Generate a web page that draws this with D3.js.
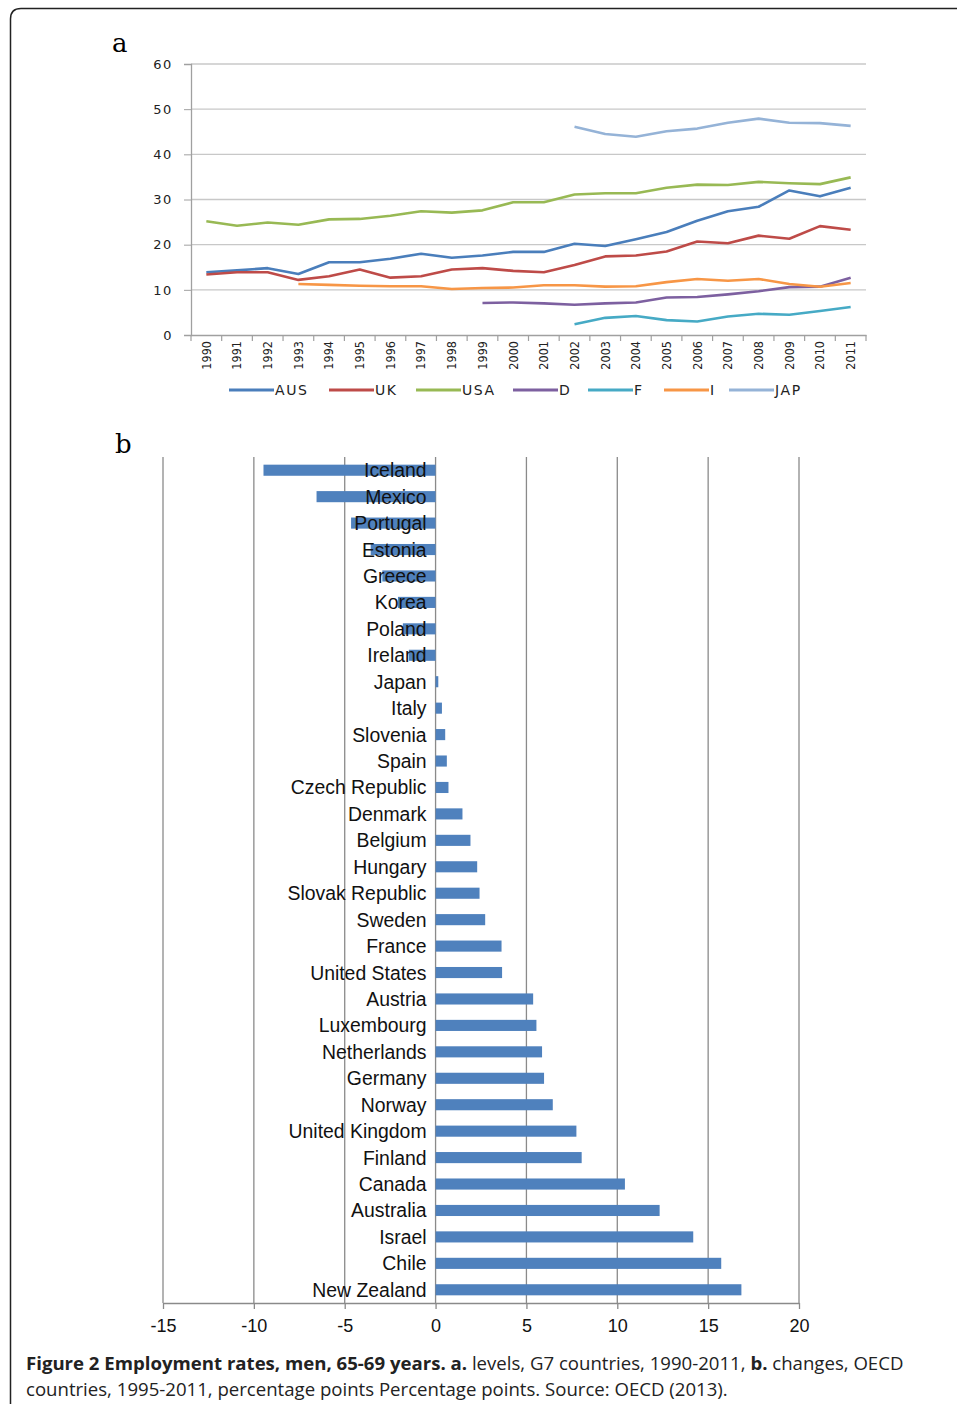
<!DOCTYPE html>
<html>
<head>
<meta charset="utf-8">
<title>Employment rates, men, 65-69</title>
<script src="https://cdn.jsdelivr.net/npm/d3@7"></script>
<style>
  body { margin: 0; background: #fff; }
</style>
</head>
<body>
<script>
// ---- data: panel a (levels, G7) ----
var years = ["1990","1991","1992","1993","1994","1995","1996","1997","1998","1999","2000",
             "2001","2002","2003","2004","2005","2006","2007","2008","2009","2010","2011"];
var ausVals = [13.9,14.3,14.8,13.5,16.1,16.1,16.9,18.0,17.1,17.6,18.4,18.4,20.2,19.7,21.2,22.8,25.3,27.4,28.4,32.0,30.7,32.6];
var ukVals  = [13.4,13.9,13.9,12.2,13.0,14.5,12.7,13.0,14.5,14.8,14.2,13.9,15.5,17.4,17.6,18.5,20.7,20.3,22.0,21.3,24.1,23.3];
var usaVals = [25.2,24.2,24.9,24.4,25.6,25.7,26.4,27.4,27.1,27.6,29.4,29.4,31.1,31.4,31.4,32.6,33.3,33.2,33.9,33.6,33.4,34.9];
var dVals   = [null,null,null,null,null,null,null,null,null,7.1,7.2,7.0,6.7,7.0,7.2,8.3,8.4,9.0,9.7,10.6,10.7,12.7];
var fVals   = [null,null,null,null,null,null,null,null,null,null,null,null,2.4,3.8,4.2,3.3,3.0,4.1,4.7,4.5,5.3,6.2];
var iVals   = [null,null,null,11.3,11.1,10.9,10.8,10.8,10.2,10.4,10.5,11.0,11.0,10.7,10.8,11.7,12.4,12.0,12.4,11.3,10.7,11.5];
var japVals = [null,null,null,null,null,null,null,null,null,null,null,null,46.1,44.5,43.9,45.1,45.7,47.0,47.9,47.0,46.9,46.3];
var seriesNames = ["AUS","UK","USA","D","F","I","JAP"];
var seriesColors = ["#4a7ebb","#be4b48","#98b954","#7d60a0","#46aac5","#f79646","#95b3d7"];
var yTicksA = [0,10,20,30,40,50,60];

// ---- data: panel b (changes 1995-2011, OECD) ----
var countries = ["Iceland","Mexico","Portugal","Estonia","Greece","Korea","Poland","Ireland","Japan","Italy",
                 "Slovenia","Spain","Czech Republic","Denmark","Belgium","Hungary","Slovak Republic","Sweden",
                 "France","United States","Austria","Luxembourg","Netherlands","Germany","Norway",
                 "United Kingdom","Finland","Canada","Australia","Israel","Chile","New Zealand"];
var changes = [-9.47,-6.55,-4.65,-3.57,-2.93,-2.07,-1.80,-1.47,0.15,0.35,
               0.53,0.62,0.71,1.48,1.92,2.29,2.42,2.73,
               3.63,3.66,5.37,5.55,5.86,5.97,6.45,
               7.75,8.04,10.42,12.33,14.18,15.72,16.83];
var xTicksB = [-15,-10,-5,0,5,10,15,20];

var width = 957, height = 1404;
var svg = d3.select("body").append("svg").attr("width", width).attr("height", height);

// frame
svg.append("path")
  .attr("d", "M10.5,1404 L10.5,19 Q10.5,8.5 21,8.5 L957,8.5")
  .attr("fill", "none").attr("stroke", "#222").attr("stroke-width", 1.5);

// panel letters
svg.append("text").attr("x", 112).attr("y", 52).attr("font-family", "DejaVu Serif, serif")
  .attr("font-size", 26).text("a");
svg.append("text").attr("x", 115).attr("y", 453).attr("font-family", "DejaVu Serif, serif")
  .attr("font-size", 26).text("b");

// ================= panel a =================
var mA = { left: 191, right: 866, top: 64, bottom: 335 };
var xBand = d3.scaleBand().domain(years).range([mA.left, mA.right]);
var yA = d3.scaleLinear().domain([0, 60]).range([mA.bottom, mA.top]);

var gA = svg.append("g");
// gridlines
gA.append("g").selectAll("line").data(yTicksA.slice(1)).enter().append("line")
  .attr("x1", mA.left).attr("x2", mA.right)
  .attr("y1", function (d) { return yA(d); }).attr("y2", function (d) { return yA(d); })
  .attr("stroke", "#c8c8c8").attr("stroke-width", 1.3);

// y axis
var axisY = gA.append("g").attr("transform", "translate(" + mA.left + ",0)")
  .call(d3.axisLeft(yA).tickValues(yTicksA).tickSize(7).tickPadding(11));
axisY.select(".domain").attr("stroke", "#a0a0a0").attr("stroke-width", 1.3);
axisY.selectAll(".tick line").attr("stroke", "#a0a0a0");
axisY.selectAll("text").attr("font-family", "DejaVu Sans, sans-serif").attr("font-size", 13)
  .attr("fill", "#222").attr("letter-spacing", 1.6);

// x axis (labels at category centres, ticks at category boundaries)
var axisX = gA.append("g").attr("transform", "translate(0," + mA.bottom + ")")
  .call(d3.axisBottom(xBand).tickSize(0).tickPadding(0));
axisX.select(".domain").attr("stroke", "#a0a0a0").attr("stroke-width", 1.3);
axisX.selectAll("text")
  .attr("font-family", "DejaVu Sans Condensed, DejaVu Sans, sans-serif").attr("font-size", 12.5)
  .attr("fill", "#222")
  .attr("text-anchor", "end")
  .attr("transform", "rotate(-90)")
  .attr("x", -6).attr("y", 0).attr("dy", "0.35em");
var bounds = years.map(function (d) { return xBand(d); }).concat([mA.right]);
gA.append("g").selectAll("line").data(bounds).enter().append("line")
  .attr("x1", function (d) { return d; }).attr("x2", function (d) { return d; })
  .attr("y1", mA.bottom).attr("y2", mA.bottom + 6)
  .attr("stroke", "#a0a0a0").attr("stroke-width", 1.2);

// series lines
var allSeries = [ausVals, ukVals, usaVals, dVals, fVals, iVals, japVals];
var line = d3.line()
  .defined(function (d) { return d != null; })
  .x(function (d, i) { return xBand(years[i]) + xBand.bandwidth() / 2; })
  .y(function (d) { return yA(d); });
gA.append("g").selectAll("path").data(allSeries).enter().append("path")
  .attr("d", line)
  .attr("fill", "none")
  .attr("stroke", function (d, i) { return seriesColors[i]; })
  .attr("stroke-width", 2.6)
  .attr("stroke-linejoin", "round");

// legend
var legendX = [229, 329, 416, 513, 588, 664, 729];
var leg = gA.append("g").selectAll("g").data(seriesNames).enter().append("g")
  .attr("transform", function (d, i) { return "translate(" + legendX[i] + ",390)"; });
leg.append("line").attr("x1", 0).attr("x2", 45).attr("y1", 0).attr("y2", 0)
  .attr("stroke", function (d, i) { return seriesColors[i]; }).attr("stroke-width", 3);
leg.append("text").attr("x", 46).attr("y", 0).attr("dy", "0.36em")
  .attr("font-family", "DejaVu Sans, sans-serif").attr("font-size", 14).attr("fill", "#222")
  .attr("letter-spacing", 1.6)
  .text(function (d) { return d; });

// ================= panel b =================
var mB = { left: 163, right: 799, top: 457, bottom: 1303 };
var xB = d3.scaleLinear().domain([-15, 20]).range([mB.left, mB.right]);
var yB = d3.scaleBand().domain(countries).range([mB.top, mB.bottom])
  .paddingInner(0.58).paddingOuter(0.29);

var gB = svg.append("g");
// vertical gridlines
gB.append("g").selectAll("line").data(xTicksB).enter().append("line")
  .attr("x1", function (d) { return xB(d); }).attr("x2", function (d) { return xB(d); })
  .attr("y1", mB.top).attr("y2", mB.bottom)
  .attr("stroke", "#8a8a8a").attr("stroke-width", 1.3);

// bottom axis
var axisB = gB.append("g").attr("transform", "translate(0," + mB.bottom + ")")
  .call(d3.axisBottom(xB).tickValues(xTicksB).tickSize(6).tickPadding(10).tickSizeOuter(0)
    .tickFormat(function (d) { return d; }));
axisB.select(".domain").attr("stroke", "#8a8a8a").attr("stroke-width", 1.5);
axisB.selectAll(".tick line").attr("stroke", "#8a8a8a").attr("stroke-width", 1.3);
axisB.selectAll("text").attr("font-family", "Liberation Sans, Arial, sans-serif")
  .attr("font-size", 18).attr("fill", "#111");

// bars
gB.append("g").selectAll("rect").data(changes).enter().append("rect")
  .attr("x", function (d) { return xB(Math.min(0, d)); })
  .attr("y", function (d, i) { return yB(countries[i]); })
  .attr("width", function (d) { return Math.abs(xB(d) - xB(0)); })
  .attr("height", yB.bandwidth())
  .attr("fill", "#4f81bd");

// country labels (drawn over bars, right-aligned near zero)
gB.append("g").selectAll("text").data(countries).enter().append("text")
  .attr("x", xB(0) - 9)
  .attr("y", function (d) { return yB(d) + yB.bandwidth() / 2; })
  .attr("dy", "0.36em")
  .attr("text-anchor", "end")
  .attr("font-family", "Liberation Sans, Arial, sans-serif")
  .attr("font-size", 19.4).attr("fill", "#111")
  .text(function (d) { return d; });

// ================= caption =================
var cap = svg.append("g").attr("font-family", "Open Sans, Noto Sans, sans-serif")
  .attr("font-size", 18.6).attr("fill", "#222");
var t1 = cap.append("text").attr("x", 26).attr("y", 1370);
t1.append("tspan").attr("font-weight", "bold").text("Figure 2 Employment rates, men, 65-69 years. a.");
t1.append("tspan").text(" levels, G7 countries, 1990-2011, ");
t1.append("tspan").attr("font-weight", "bold").text("b.");
t1.append("tspan").text(" changes, OECD");
cap.append("text").attr("x", 26).attr("y", 1396)
  .text("countries, 1995-2011, percentage points Percentage points. Source: OECD (2013).");
</script>
</body>
</html>
